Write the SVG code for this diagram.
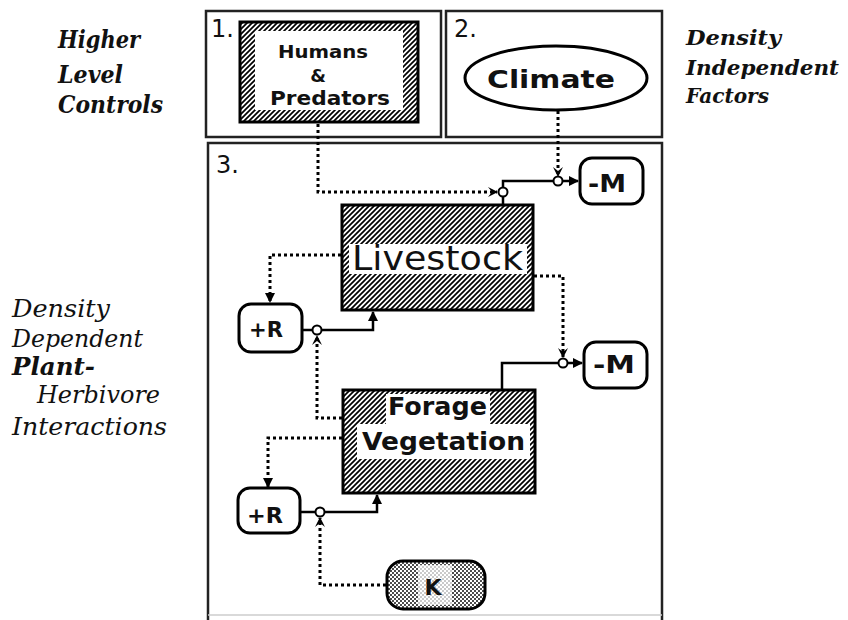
<svg xmlns="http://www.w3.org/2000/svg" width="848" height="620" viewBox="0 0 848 620">
<defs>
<pattern id="hatch" width="5" height="5" patternUnits="userSpaceOnUse">
<rect width="5" height="5" fill="#fff"/>
<path d="M0,5 L5,0 M-1,1 L1,-1 M4,6 L6,4" stroke="#000" stroke-width="1.7"/>
</pattern>
<pattern id="dots" width="4" height="4" patternUnits="userSpaceOnUse">
<rect width="4" height="4" fill="#fff"/>
<circle cx="1" cy="1" r="0.95" fill="#000"/>
<circle cx="3" cy="3" r="0.95" fill="#000"/>
</pattern>
<marker id="arr" viewBox="0 0 10 10" refX="9" refY="5" markerWidth="10" markerHeight="10" markerUnits="userSpaceOnUse" orient="auto">
<path d="M0,0 L10,5 L0,10 z" fill="#000"/>
</marker>
<marker id="carr" viewBox="0 0 10 10" refX="9" refY="5" markerWidth="10" markerHeight="10" markerUnits="userSpaceOnUse" orient="auto">
<path d="M0,0 L10,5 L0,10 L4,5 z" fill="#000"/>
</marker>
</defs>
<style>
.panel{fill:none;stroke:#222;stroke-width:2.5}
.side{font-family:"DejaVu Serif","Liberation Serif",serif;font-style:italic;font-size:24px;fill:#111}
.sr{font-size:20px}
.sb{font-weight:bold}
.num{font-family:"DejaVu Sans","Liberation Sans",sans-serif;font-size:24px;fill:#111}
.nt{font-family:"DejaVu Sans","Liberation Sans",sans-serif;font-weight:bold;fill:#111}
.box{stroke:#000;stroke-width:3}
.flow{fill:none;stroke:#000;stroke-width:2.5}
.ctrl{fill:none;stroke:#000;stroke-width:3;stroke-dasharray:3 3}
.valve{fill:#fff;stroke:#000;stroke-width:2}
.oct{fill:#fff;stroke:#000;stroke-width:3}
</style>
<rect width="848" height="620" fill="#fff"/>

<g id="panels">
<rect class="panel" x="206" y="11" width="235" height="126"/>
<rect class="panel" x="446" y="11" width="216" height="126"/>
<path class="panel" d="M208,620 L208,143 L662,143 L662,620"/>
<path d="M208,615 L662,615" stroke="#ccc" stroke-width="1.5"/>
<text class="num" x="211" y="37">1.</text>
<text class="num" x="454" y="37">2.</text>
<text class="num" x="216" y="173">3.</text>
</g>

<g id="labels">
<text class="side sb" x="58" y="48" textLength="82" lengthAdjust="spacingAndGlyphs">Higher</text>
<text class="side sb" x="58" y="83" textLength="65" lengthAdjust="spacingAndGlyphs">Level</text>
<text class="side sb" x="58" y="113" textLength="105" lengthAdjust="spacingAndGlyphs">Controls</text>
<text class="side sb sr" x="686" y="45" textLength="95" lengthAdjust="spacingAndGlyphs">Density</text>
<text class="side sb sr" x="686" y="75" textLength="153" lengthAdjust="spacingAndGlyphs">Independent</text>
<text class="side sb sr" x="686" y="103" textLength="83" lengthAdjust="spacingAndGlyphs">Factors</text>
<text class="side" x="12" y="317" textLength="98" lengthAdjust="spacingAndGlyphs">Density</text>
<text class="side" x="12" y="347" textLength="131" lengthAdjust="spacingAndGlyphs">Dependent</text>
<text class="side sb" x="12" y="375" textLength="83" lengthAdjust="spacingAndGlyphs">Plant-</text>
<text class="side" x="37" y="403" textLength="123" lengthAdjust="spacingAndGlyphs">Herbivore</text>
<text class="side" x="12" y="435" textLength="155" lengthAdjust="spacingAndGlyphs">Interactions</text>
</g>

<g id="n-humans">
<rect class="box" x="240" y="22" width="178" height="100" fill="url(#hatch)"/>
<rect x="255" y="31" width="148" height="79" fill="#fff"/>
<text class="nt" x="278" y="58" font-size="18" textLength="90" lengthAdjust="spacingAndGlyphs">Humans</text>
<text class="nt" x="318" y="82" font-size="18" text-anchor="middle">&amp;</text>
<text class="nt" x="270" y="105" font-size="19" textLength="120" lengthAdjust="spacingAndGlyphs">Predators</text>
</g>

<g id="n-climate">
<ellipse cx="556" cy="78" rx="91" ry="32" fill="#fff" stroke="#000" stroke-width="3"/>
<text class="nt" x="487" y="88" font-size="24" textLength="128" lengthAdjust="spacingAndGlyphs">Climate</text>
</g>

<g id="n-livestock">
<rect class="box" x="342" y="205" width="191" height="105" fill="url(#hatch)"/>
<rect x="349" y="244" width="178" height="30" fill="#fff"/>
<text x="352" y="270" font-family="DejaVu Sans, Liberation Sans, sans-serif" font-size="33" fill="#111" textLength="171" lengthAdjust="spacingAndGlyphs">Livestock</text>
</g>

<g id="n-forage">
<rect class="box" x="343" y="390" width="192" height="103" fill="url(#hatch)"/>
<rect x="386" y="394" width="104" height="30" fill="#fff"/>
<rect x="357" y="424" width="173" height="35" fill="#fff"/>
<text class="nt" x="388" y="415" font-size="24" textLength="99" lengthAdjust="spacingAndGlyphs">Forage</text>
<text class="nt" x="362" y="450" font-size="24" textLength="163" lengthAdjust="spacingAndGlyphs">Vegetation</text>
</g>

<g id="n-m1">
<rect class="oct" x="580" y="158" width="63" height="46" rx="12"/>
<text class="nt" x="588" y="192" font-size="24" textLength="38" lengthAdjust="spacingAndGlyphs">-M</text>
</g>

<g id="n-m2">
<rect class="oct" x="584" y="342" width="63" height="46" rx="12"/>
<text class="nt" x="593" y="373" font-size="24" textLength="42" lengthAdjust="spacingAndGlyphs">-M</text>
</g>

<g id="n-r1">
<rect class="oct" x="239" y="304" width="63" height="48" rx="12"/>
<text class="nt" x="249" y="337" font-size="22" textLength="34" lengthAdjust="spacingAndGlyphs">+R</text>
</g>

<g id="n-r2">
<rect class="oct" x="238" y="488" width="62" height="45" rx="12"/>
<text class="nt" x="247" y="523" font-size="22" textLength="36" lengthAdjust="spacingAndGlyphs">+R</text>
</g>

<g id="n-k">
<rect x="387" y="561" width="98" height="48" rx="16" fill="url(#dots)" stroke="#000" stroke-width="3"/>
<rect x="418" y="565" width="34" height="40" fill="#fff" opacity="0.7"/>
<text class="nt" x="433" y="595" font-size="22" text-anchor="middle">K</text>
</g>

<g id="connectors">
<path class="ctrl" d="M318,124 L318,192 L497,192" marker-end="url(#carr)"/>
<path class="ctrl" d="M558,111 L558,176" marker-end="url(#carr)"/>
<path class="ctrl" d="M341,255 L270,255 L270,302" marker-end="url(#arr)"/>
<path class="ctrl" d="M534,276 L563,276 L563,357" marker-end="url(#carr)"/>
<path class="ctrl" d="M342,418 L317,418 L317,336" marker-end="url(#carr)"/>
<path class="ctrl" d="M342,438 L268,438 L268,487" marker-end="url(#arr)"/>
<path class="ctrl" d="M386,585 L320,585 L320,518" marker-end="url(#carr)"/>
<path class="flow" d="M503,205 L503,181 L578,181" marker-end="url(#arr)"/>
<path class="flow" d="M302,330 L373,330 L373,312" marker-end="url(#arr)"/>
<path class="flow" d="M502,390 L502,363 L582,363" marker-end="url(#arr)"/>
<path class="flow" d="M300,512 L377,512 L377,495" marker-end="url(#arr)"/>
<circle class="valve" cx="503" cy="192" r="4.5"/>
<circle class="valve" cx="558" cy="181" r="4.5"/>
<circle class="valve" cx="317" cy="330" r="4.5"/>
<circle class="valve" cx="563" cy="363" r="4.5"/>
<circle class="valve" cx="320" cy="512" r="4.5"/>
</g>
</svg>
